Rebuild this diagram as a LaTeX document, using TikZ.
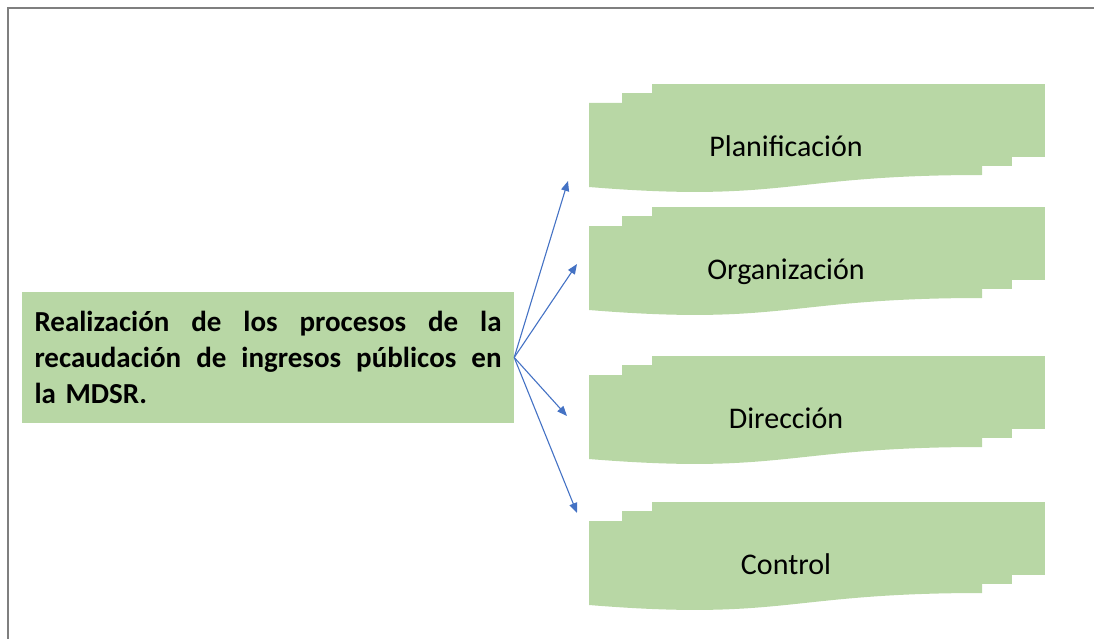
\documentclass[tikz,border=0pt]{standalone}
\usepackage{fontspec}
\setmainfont{Carlito}
\usetikzlibrary{arrows.meta}
\definecolor{docgreen}{HTML}{B8D7A5}
\definecolor{arrowblue}{HTML}{4472C4}
\definecolor{framegray}{HTML}{7F7F7F}
\tikzset{
  docfill/.style={fill=docgreen, draw=none},
  lbl/.style={font=\fontsize{30}{34}\selectfont, text=black, inner sep=0pt, anchor=base},
  srcbox/.style={fill=docgreen, draw=none, minimum width=492pt, minimum height=131pt,
    text width=467pt, inner xsep=12.5pt, inner ysep=0pt, align=left,
    font=\fontsize{29}{36}\selectfont\bfseries, text=black},
  conn/.style={draw=arrowblue, line width=1.1pt, -{Triangle[length=10pt,width=8pt]}},
  frameline/.style={draw=framegray, line width=2pt}
}
\newcommand\multidocshape[1]{%
  \fill[docfill] (652,#1) rectangle (1045,#1+73);
  \fill[docfill] (622,#1+9) rectangle (1012,#1+82);
  \fill[docfill] (589,#1+19) -- (982,#1+19) -- (982,#1+91)
     .. controls (785.5,#1+91) and (785.5,#1+119) .. (589,#1+103) -- cycle;
}
\newcommand\fullline[1]{\leavevmode\hbox to 467pt{#1}}
\begin{document}
\begin{tikzpicture}[x=1pt,y=-1pt]
\useasboundingbox (0,0) rectangle (1094,639);
% frame
\coordinate (fc) at (8,8);
\coordinate (ftr) at (1094,8);
\coordinate (fbl) at (8,639);
\draw[frameline] (fbl) -- (fc) -- (ftr);
% shapes
\multidocshape{84}
\multidocshape{207}
\multidocshape{356}
\multidocshape{502}
\node[lbl] (plan) at (786,157) {Planificación};
\node[lbl] (org) at (786,279) {Organización};
\node[lbl] (dir) at (786,428) {Dirección};
\node[lbl] (ctrl) at (786,574) {Control};
% source box
\node[srcbox] (src) at (268,357.5) {\fullline{Realización\hfill de\hfill los\hfill procesos\hfill de\hfill la}\\
\fullline{recaudación\hfill de\hfill ingresos\hfill públicos\hfill en}\\
la MDSR.};
% arrow tips
\coordinate (t1) at (568,181);
\coordinate (t2) at (577,264);
\coordinate (t3) at (567,416);
\coordinate (t4) at (577,513);
\draw[conn] (src.east) -- (t1);
\draw[conn] (src.east) -- (t2);
\draw[conn] (src.east) -- (t3);
\draw[conn] (src.east) -- (t4);
\end{tikzpicture}
\end{document}
